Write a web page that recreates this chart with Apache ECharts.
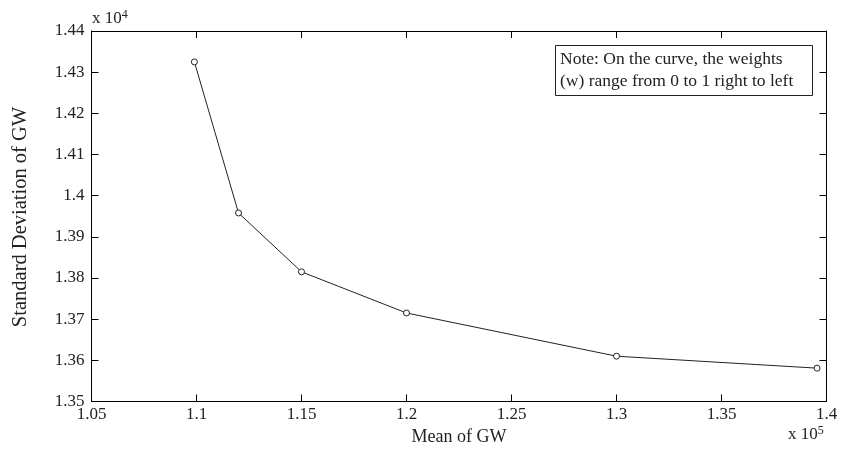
<!DOCTYPE html>
<html>
<head>
<meta charset="utf-8">
<script src="https://cdn.jsdelivr.net/npm/echarts@6/dist/echarts.min.js"></script>
<style>
html,body{margin:0;padding:0;background:#fff;}
#chart{width:849px;height:455px;}
</style>
</head>
<body>
<div id="chart"></div>
<script>
// Mean of GW (x 10^5) and Standard Deviation of GW (x 10^4)
const meanGW = [1.099, 1.120, 1.150, 1.200, 1.300, 1.3955];
const stdGW  = [1.4325, 1.3958, 1.3815, 1.3715, 1.3610, 1.3581];
const xTicks = {min: 1.05, max: 1.40, interval: 0.05};
const yTicks = {min: 1.35, max: 1.44, interval: 0.01};
const xTitle = 'Mean of GW';
const yTitle = 'Standard Deviation of GW';
const noteLines = ['Note: On the curve, the weights', '(w) range from 0 to 1 right to left'];

const FONT = '"Liberation Serif", "Times New Roman", serif';
const fmt = v => String(parseFloat(v.toFixed(4)));

const chart = echarts.init(document.getElementById('chart'), null, {renderer: 'canvas'});
const axisLine = {show: true, onZero: false, lineStyle: {color: '#000', width: 1}};
const axisTick = {show: true, inside: true, length: 7, lineStyle: {color: '#000', width: 1}};

chart.setOption({
  animation: false,
  backgroundColor: '#fff',
  grid: {left: 91.5, right: 22.5, top: 31, bottom: 53.5, containLabel: false},
  xAxis: [
    {type: 'value', position: 'bottom', min: xTicks.min, max: xTicks.max, interval: xTicks.interval,
     axisLine, axisTick, splitLine: {show: false},
     axisLabel: {color: '#222', fontFamily: FONT, fontSize: 17, margin: 5, formatter: fmt}},
    {type: 'value', position: 'top', min: xTicks.min, max: xTicks.max, interval: xTicks.interval,
     axisLine, axisTick, splitLine: {show: false}, axisLabel: {show: false}}
  ],
  yAxis: [
    {type: 'value', position: 'left', min: yTicks.min, max: yTicks.max, interval: yTicks.interval,
     axisLine, axisTick, splitLine: {show: false},
     axisLabel: {color: '#222', fontFamily: FONT, fontSize: 17, margin: 7, formatter: fmt}},
    {type: 'value', position: 'right', min: yTicks.min, max: yTicks.max, interval: yTicks.interval,
     axisLine, axisTick, splitLine: {show: false}, axisLabel: {show: false}}
  ],
  series: [{
    type: 'line',
    data: meanGW.map((x, i) => [x, stdGW[i]]),
    xAxisIndex: 0, yAxisIndex: 0,
    symbol: 'circle', symbolSize: 6, showSymbol: true,
    lineStyle: {color: '#222', width: 1},
    itemStyle: {color: '#fff', borderColor: '#222', borderWidth: 1}
  }],
  graphic: [
    {type: 'text', x: 459, y: 437,
     style: {text: xTitle, font: '18px ' + FONT, fill: '#222', align: 'center', verticalAlign: 'middle'}},
    {type: 'text', x: 21, y: 217, rotation: Math.PI / 2,
     style: {text: yTitle, font: '20.5px ' + FONT, fill: '#222', align: 'center', verticalAlign: 'middle'}},
    {type: 'text', x: 92, y: 29,
     style: {text: '{a|x 10}{b|4}', fill: '#222', verticalAlign: 'bottom',
       rich: {a: {fontFamily: FONT, fontSize: 17, fill: '#222'},
              b: {fontFamily: FONT, fontSize: 12, fill: '#222', verticalAlign: 'top', padding: [0,0,8,0]}}}},
    {type: 'text', x: 788, y: 445,
     style: {text: '{a|x 10}{b|5}', fill: '#222', verticalAlign: 'bottom',
       rich: {a: {fontFamily: FONT, fontSize: 17, fill: '#222'},
              b: {fontFamily: FONT, fontSize: 12, fill: '#222', verticalAlign: 'top', padding: [0,0,8,0]}}}},
    {type: 'rect', shape: {x: 555.5, y: 45.5, width: 257, height: 50},
     style: {fill: '#fff', stroke: '#222', lineWidth: 1}, z: 20},
    {type: 'text', x: 560, y: 59, z: 21,
     style: {text: noteLines[0], font: '17.5px ' + FONT, fill: '#222', verticalAlign: 'middle'}},
    {type: 'text', x: 560, y: 81, z: 21,
     style: {text: noteLines[1], font: '17.5px ' + FONT, fill: '#222', verticalAlign: 'middle'}}
  ]
});
</script>
</body>
</html>
